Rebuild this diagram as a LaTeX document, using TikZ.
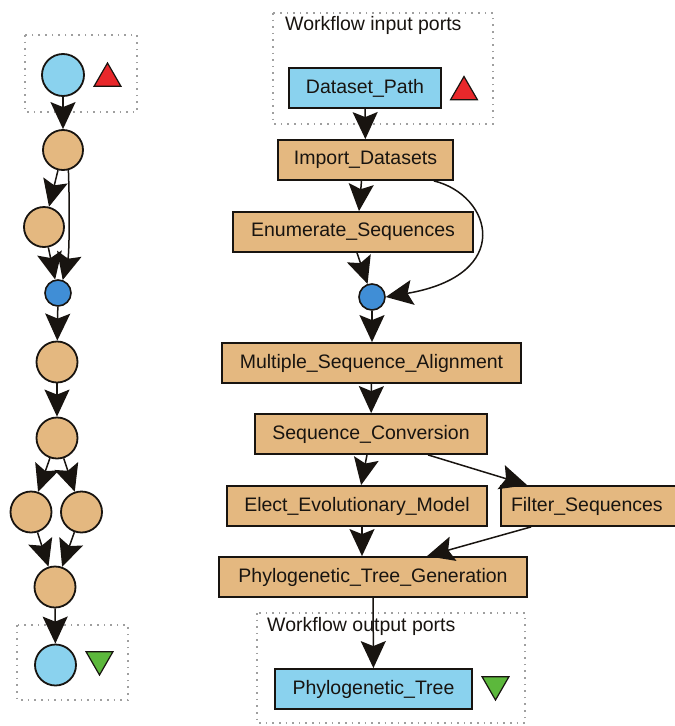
\documentclass[tikz,border=0pt]{standalone}
\usepackage{fontspec}
\setmainfont{Liberation Sans}
\usetikzlibrary{arrows.meta,shapes.geometric}

\definecolor{tan}{RGB}{228,184,128}
\definecolor{portblue}{RGB}{138,210,238}
\definecolor{joinblue}{RGB}{64,142,214}
\definecolor{upred}{RGB}{232,40,43}
\definecolor{downgreen}{RGB}{92,184,60}
\definecolor{ink}{RGB}{24,20,16}

\tikzset{
  proc/.style={draw=ink, line width=1.8pt, fill=tan, minimum height=40pt,
    inner sep=0pt, font=\fontsize{19.5}{22}\selectfont, text=ink},
  port/.style={proc, fill=portblue},
  dot/.style={circle, draw=ink, line width=1.8pt, fill=tan, inner sep=0pt, minimum size=41pt},
  portdot/.style={dot, fill=portblue},
  joindot/.style={circle, draw=ink, line width=1.6pt, fill=joinblue, inner sep=0pt, minimum size=26pt},
  intri/.style={regular polygon, regular polygon sides=3, draw=ink, line width=1.2pt,
    fill=upred, inner sep=0pt, minimum size=31pt},
  outtri/.style={intri, fill=downgreen, shape border rotate=180},
  portframe/.style={draw=gray!75, line width=1.6pt, dash pattern=on 1.6pt off 5pt},
  framelabel/.style={anchor=west, inner sep=0pt, font=\fontsize{19.5}{22}\selectfont, text=ink},
  link/.style={draw=ink, line width=1.5pt, -{Stealth[length=27pt, width=25pt, inset=5pt]}},
}

\begin{document}
\begin{tikzpicture}[x=1pt, y=-1pt]
\useasboundingbox (0,0) rectangle (675,726);

% ---------- compact view (left) ----------
\draw[portframe] (25,35) rectangle (137,112);
\draw[portframe] (17,625) rectangle (128,700);

\node[portdot, minimum size=42pt] (lin) at (63,75) {};
\node[intri] (lintri) at (107.5,78.5) {};
\node[dot, minimum size=40pt] (l1) at (63,150) {};
\node[dot, minimum size=40pt] (l2) at (44,227) {};
\node[joindot] (lj) at (58,293) {};
\node[dot] (l3) at (57,362) {};
\node[dot] (l4) at (57,438) {};
\node[dot] (l5a) at (31,512) {};
\node[dot] (l5b) at (81.5,512) {};
\node[dot] (l6) at (55,587) {};
\node[portdot] (lout) at (55.5,665) {};
\node[outtri] (louttri) at (99.5,659.5) {};

\draw[link] (lin) -- (l1);
\draw[link] (l1) -- (l2);
\draw[link] (l1.-75) .. controls (70,215) and (69,255) .. (lj.70);
\draw[link] (l2) -- (lj);
\draw[link] (lj) -- (l3);
\draw[link] (l3) -- (l4);
\draw[link] (l4) -- (l5a);
\draw[link] (l4) -- (l5b);
\draw[link] (l5a) -- (l6);
\draw[link] (l5b) -- (l6);
\draw[link] (l6) -- (lout);

% ---------- full view (right) ----------
\draw[portframe] (273,13) rectangle (493,124);
\node[framelabel] (inlabel) at (285,25) {Workflow input ports};
\draw[portframe] (257,613) rectangle (525,723);
\node[framelabel] (outlabel) at (267,626) {Workflow output ports};

\node[port, minimum width=152pt] (dpath) at (365,88) {Dataset\_Path};
\node[intri] (dtri) at (464,92) {};
\node[proc, minimum width=175pt] (import) at (365.5,160) {Import\_Datasets};
\node[proc, minimum width=240pt] (enum) at (353,232) {Enumerate\_Sequences};
\node[joindot] (join) at (372,297) {};
\node[proc, minimum width=299pt] (msa) at (371.5,363) {Multiple\_Sequence\_Alignment};
\node[proc, minimum width=232pt] (conv) at (371,434) {Sequence\_Conversion};
\node[proc, minimum width=260pt] (elect) at (357,506) {Elect\_Evolutionary\_Model};
\node[proc, minimum width=176pt, text width=176pt, align=left] (filter) at (589,506)
  {\hspace*{10pt}Filter\_Sequences};
\node[proc, minimum width=308pt] (ptg) at (373,577) {Phylogenetic\_Tree\_Generation};
\node[port, minimum width=197pt] (ptree) at (373.5,689) {Phylogenetic\_Tree};
\node[outtri] (ptri) at (495.5,684.5) {};

\draw[link] (dpath) -- (import);
\draw[link] ([xshift=-4pt]import.south) -- ([xshift=6pt]enum.north);
\draw[link] ([xshift=-20pt]import.south east) .. controls (492,195) and (515,275) .. (join.east);
\draw[link] ([xshift=4pt]enum.south) -- (join);
\draw[link] (join) -- (join |- msa.north);
\draw[link] (msa) -- (conv);
\draw[link] ([xshift=-4pt]conv.south) -- (elect);
\draw[link] ([xshift=57pt]conv.south) -- ([xshift=27pt]filter.north west);
\draw[link] ([xshift=5pt]elect.south) -- ([xshift=-11pt]ptg.north);
\draw[link] ([xshift=31pt]filter.south west) -- ([xshift=54pt]ptg.north);
\draw[link] (ptg) -- (ptree);
\end{tikzpicture}
\end{document}
